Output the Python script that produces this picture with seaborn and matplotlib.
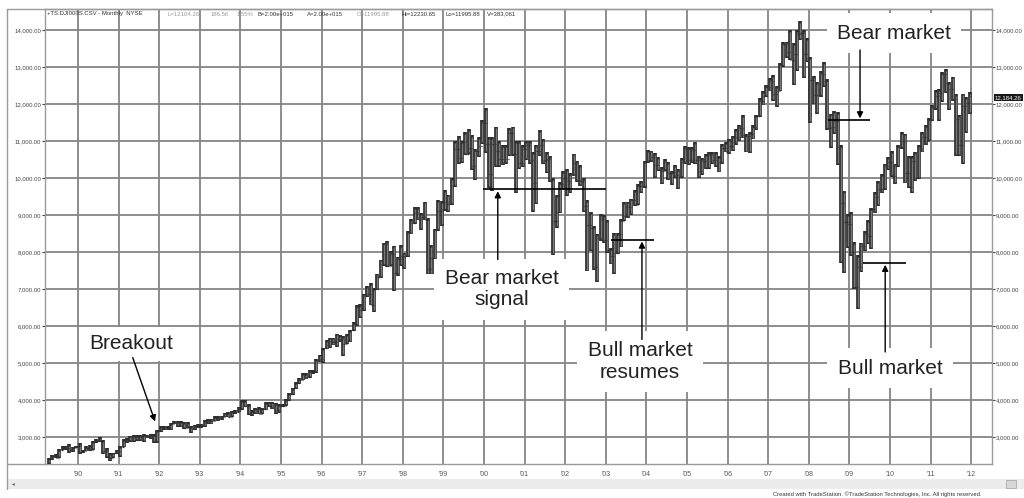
import numpy as np
import pandas as pd
import matplotlib
matplotlib.use("Agg")
import matplotlib.pyplot as plt
from matplotlib.patches import Rectangle
from matplotlib.lines import Line2D
import seaborn as sns

# ─── DATA (monthly OHLC, Apr 1989 – Dec 2011) ────────────────────────────────
START = "1989-04"

OPEN = [
    2293, 2419, 2480, 2440, 2661, 2737, 2693, 2645, 2706,                      # 1989
    2753, 2591, 2627, 2707, 2657, 2877, 2881, 2905, 2614, 2453, 2442, 2560,    # 1990
    2634, 2736, 2882, 2914, 2888, 3028, 2907, 3025, 3044, 3017, 3069, 2895,    # 1991
    3169, 3224, 3267, 3236, 3359, 3397, 3319, 3394, 3257, 3272, 3226, 3305,    # 1992
    3301, 3310, 3370, 3435, 3428, 3527, 3516, 3540, 3651, 3555, 3681, 3684,    # 1993
    3754, 3978, 3832, 3636, 3682, 3758, 3625, 3765, 3913, 3843, 3908, 3739,    # 1994
    3834, 3844, 4011, 4158, 4321, 4465, 4556, 4709, 4611, 4789, 4756, 5075,    # 1995
    5117, 5395, 5486, 5588, 5569, 5643, 5655, 5529, 5616, 5882, 6029, 6522,    # 1996
    6448, 6813, 6878, 6584, 7009, 7331, 7673, 8223, 7622, 7945, 7442, 7823,    # 1997
    7908, 7907, 8546, 8800, 9063, 8900, 8952, 8883, 7539, 7843, 8592, 9117,    # 1998
    9181, 9359, 9307, 9786, 10789, 10560, 10971, 10655, 10829, 10337, 10730, 10878,  # 1999
    11497, 10941, 10128, 10922, 10734, 10522, 10448, 10522, 11215, 10651, 10971, 10415,  # 2000
    10787, 10887, 10495, 9879, 10735, 10912, 10502, 10523, 9950, 8848, 9075, 9852,  # 2001
    10021, 9920, 10106, 10404, 9946, 9925, 9243, 8737, 8664, 7592, 8397, 8896,  # 2002
    8342, 8054, 7891, 7992, 8480, 8850, 8985, 9234, 9416, 9275, 9801, 9782,    # 2003
    10454, 10488, 10584, 10358, 10226, 10188, 10435, 10140, 10174, 10080, 10027, 10428,  # 2004
    10783, 10490, 10766, 10504, 10193, 10467, 10275, 10641, 10482, 10569, 10440, 10806,  # 2005
    10718, 10865, 10993, 11109, 11367, 11168, 11150, 11186, 11381, 11679, 12081, 12222,  # 2006
    12463, 12622, 12269, 12354, 13063, 13628, 13409, 13212, 13358, 13896, 13930, 13372,  # 2007
    13265, 12650, 12266, 12263, 12820, 12638, 11350, 11378, 11544, 10851, 9325, 8829,  # 2008
    8776, 8001, 7063, 7609, 8168, 8500, 8447, 9172, 9496, 9712, 9713, 10345,   # 2009
    10428, 10067, 10325, 10857, 11009, 10137, 9774, 10466, 10015, 10788, 11118, 11006,  # 2010
    11578, 11892, 12226, 12320, 12811, 12570, 12414, 12143, 11614, 10913, 11955, 12046,  # 2011
]

HIGH = [
    2430, 2500, 2535, 2670, 2760, 2770, 2800, 2720, 2770,
    2835, 2660, 2760, 2780, 2900, 2950, 3000, 2920, 2690, 2560, 2580, 2660,
    2750, 2950, 2980, 3040, 3050, 3060, 3050, 3070, 3060, 3080, 3080, 3190,
    3290, 3300, 3300, 3380, 3420, 3430, 3420, 3400, 3400, 3300, 3320, 3350,
    3340, 3460, 3490, 3500, 3560, 3560, 3580, 3660, 3670, 3700, 3720, 3800,
    3990, 3990, 3900, 3720, 3790, 3810, 3790, 3940, 3960, 3960, 3920, 3880,
    3900, 4020, 4180, 4330, 4480, 4590, 4730, 4720, 4810, 4810, 5110, 5230,
    5400, 5630, 5690, 5690, 5800, 5760, 5730, 5790, 5900, 6100, 6560, 6600,
    6880, 7080, 7160, 7030, 7420, 7800, 8260, 8300, 8020, 8180, 7880, 8200,
    7990, 8580, 8900, 9210, 9210, 9070, 9370, 8920, 8200, 8640, 9420, 9380,
    9680, 9560, 10010, 11000, 11150, 11000, 11250, 11330, 11160, 10790, 11120, 11570,
    11900, 11120, 11120, 11400, 11000, 10900, 10900, 11350, 11400, 11000, 11000, 10900,
    11000, 11000, 10700, 10900, 11300, 11050, 10700, 10600, 10000, 9550, 9900, 10200,
    10260, 10150, 10670, 10480, 10350, 10000, 9400, 9080, 8700, 8500, 9040, 9000,
    8870, 8110, 8520, 8520, 8900, 9350, 9370, 9450, 9690, 9850, 9930, 10460,
    10760, 10750, 10690, 10570, 10300, 10530, 10450, 10200, 10350, 10240, 10550, 10870,
    10850, 10850, 10980, 10600, 10550, 10650, 10720, 10720, 10700, 10600, 10930, 10990,
    11050, 11140, 11330, 11450, 11710, 11200, 11250, 11450, 11720, 12170, 12360, 12530,
    12700, 12800, 12500, 13120, 13690, 13700, 14020, 13660, 14000, 14250, 14000, 13800,
    13280, 12770, 12600, 12900, 13140, 12680, 11750, 11810, 11790, 10900, 9650, 9030,
    9090, 8280, 7930, 8260, 8580, 8880, 9200, 9630, 9920, 10120, 10400, 10580,
    10730, 10400, 10900, 11260, 11210, 10600, 10600, 10720, 10900, 11250, 11450, 11630,
    11990, 12390, 12420, 12880, 12950, 12600, 12750, 12280, 11720, 12290, 12200, 12330,
]

LOW = [
    2280, 2390, 2430, 2430, 2640, 2660, 2570, 2600, 2690,
    2540, 2560, 2610, 2630, 2650, 2840, 2870, 2550, 2430, 2360, 2430, 2550,
    2470, 2720, 2850, 2860, 2860, 2900, 2900, 2860, 2980, 2950, 2850, 2840,
    3140, 3200, 3200, 3180, 3340, 3280, 3260, 3220, 3240, 3120, 3200, 3250,
    3240, 3280, 3360, 3340, 3420, 3440, 3460, 3530, 3530, 3540, 3620, 3680,
    3740, 3800, 3600, 3560, 3620, 3610, 3620, 3720, 3820, 3760, 3620, 3650,
    3800, 3830, 3980, 4150, 4300, 4430, 4530, 4560, 4600, 4700, 4740, 5020,
    5000, 5370, 5400, 5480, 5430, 5580, 5200, 5510, 5560, 5870, 6000, 6220,
    6400, 6780, 6560, 6390, 6980, 7300, 7640, 7600, 7620, 6950, 7360, 7620,
    7540, 7870, 8480, 8770, 8860, 8600, 8860, 7400, 7400, 7400, 8580, 8700,
    9120, 9100, 9280, 9770, 10400, 10420, 10640, 10660, 10220, 9950, 10580, 10920,
    10680, 9730, 9650, 10300, 10300, 10370, 10400, 10600, 10600, 9600, 10250, 10300,
    10500, 10400, 9100, 9300, 10600, 10400, 10150, 9900, 7930, 8650, 9050, 9700,
    9530, 9600, 10050, 9900, 9800, 9080, 7480, 8040, 7530, 7190, 8300, 8240,
    7990, 7670, 7420, 7960, 8130, 8850, 8920, 9000, 9260, 9270, 9600, 9750,
    10410, 10450, 10000, 10200, 9850, 10200, 9950, 9810, 10000, 9710, 10000, 10390,
    10370, 10420, 10400, 10000, 10090, 10250, 10250, 10400, 10300, 10160, 10400, 10700,
    10650, 10750, 10900, 11000, 11080, 10700, 10680, 11050, 11300, 11650, 11970, 12200,
    12350, 12100, 11940, 12350, 13020, 13250, 13200, 12520, 12900, 13750, 12720, 13140,
    11500, 12000, 11730, 12200, 12480, 11300, 10830, 11200, 10360, 7700, 7450, 8120,
    7910, 7000, 6470, 7470, 8030, 8220, 8090, 9070, 9250, 9600, 9680, 10230,
    10030, 9840, 10300, 10800, 9860, 9730, 9610, 9930, 9990, 10700, 10900, 11000,
    11550, 11860, 11560, 12070, 12300, 11860, 12090, 10600, 10600, 10400, 11230, 11730,
]

CLOSE = [
    2419, 2480, 2440, 2661, 2737, 2693, 2645, 2706, 2753,
    2591, 2627, 2707, 2657, 2877, 2881, 2905, 2614, 2453, 2442, 2560, 2634,
    2736, 2882, 2914, 2888, 3028, 2907, 3025, 3044, 3017, 3069, 2895, 3169,
    3224, 3267, 3236, 3359, 3397, 3319, 3394, 3257, 3272, 3226, 3305, 3301,
    3310, 3370, 3435, 3428, 3527, 3516, 3540, 3651, 3555, 3681, 3684, 3754,
    3978, 3832, 3636, 3682, 3758, 3625, 3765, 3913, 3843, 3908, 3739, 3834,
    3844, 4011, 4158, 4321, 4465, 4556, 4709, 4611, 4789, 4756, 5075, 5117,
    5395, 5486, 5588, 5569, 5643, 5655, 5529, 5616, 5882, 6029, 6522, 6448,
    6813, 6878, 6584, 7009, 7331, 7673, 8223, 7622, 7945, 7442, 7823, 7908,
    7907, 8546, 8800, 9063, 8900, 8952, 8883, 7539, 7843, 8592, 9117, 9181,
    9359, 9307, 9786, 10789, 10560, 10971, 10655, 10829, 10337, 10730, 10878, 11497,
    10941, 10128, 10922, 10734, 10522, 10448, 10522, 11215, 10651, 10971, 10415, 10787,
    10887, 10495, 9879, 10735, 10912, 10502, 10523, 9950, 8848, 9075, 9852, 10021,
    9920, 10106, 10404, 9946, 9925, 9243, 8737, 8664, 7592, 8397, 8896, 8342,
    8054, 7891, 7992, 8480, 8850, 8985, 9234, 9416, 9275, 9801, 9782, 10454,
    10488, 10584, 10358, 10226, 10188, 10435, 10140, 10174, 10080, 10027, 10428, 10783,
    10490, 10766, 10504, 10193, 10467, 10275, 10641, 10482, 10569, 10440, 10806, 10718,
    10865, 10993, 11109, 11367, 11168, 11150, 11186, 11381, 11679, 12081, 12222, 12463,
    12622, 12269, 12354, 13063, 13628, 13409, 13212, 13358, 13896, 13930, 13372, 13265,
    12650, 12266, 12263, 12820, 12638, 11350, 11378, 11544, 10851, 9325, 8829, 8776,
    8001, 7063, 7609, 8168, 8500, 8447, 9172, 9496, 9712, 9713, 10345, 10428,
    10067, 10325, 10857, 11009, 10137, 9774, 10466, 10015, 10788, 11118, 11006, 11578,
    11892, 12226, 12320, 12811, 12570, 12414, 12143, 11614, 10913, 11955, 12046, 12218,
]

YEAR_TICKS = list(range(1990, 2013))
YEAR_LABELS = ["'%02d" % (y % 100) for y in YEAR_TICKS]
PRICE_TICKS = list(range(3000, 15000, 1000))
LAST_PRICE = 12184.26

# signal lines (start year, end year, level)
SIGNALS = [(1999.98, 2003.0, 9700), (2003.13, 2004.19, 8325),
           (2008.47, 2009.50, 11570), (2009.33, 2010.39, 7700)]

# ─── STYLE ───────────────────────────────────────────────────────────────────
sns.set_theme(style="white")
plt.rcParams["font.family"] = ["Liberation Sans", "DejaVu Sans"]
GRID = "#858585"
BAR_DARK = "#2e2e2e"
BAR_FILL = "#7a7a7a"

df = pd.DataFrame({"open": OPEN, "high": HIGH, "low": LOW, "close": CLOSE})
dates = pd.date_range(START, periods=len(df), freq="MS")
df["x"] = dates.year + (dates.month - 1) / 12 + 0.04

fig = plt.figure(figsize=(10.24, 4.98), dpi=100)
W, H = 1024, 498
ax = fig.add_axes([45 / W, 34 / H, (992 - 45) / W, (464 - 9) / H])
ax.set_xlim(1989.19, 2012.51)
ax.set_ylim(2270, 14580)

# grid
for y in PRICE_TICKS:
    ax.axhline(y, color=GRID, lw=1.3, zorder=1)
for x in YEAR_TICKS:
    ax.axvline(x, color=GRID, lw=1.3, zorder=1)

# OHLC bars
ax.vlines(df["x"], df["low"], df["high"], color=BAR_DARK, lw=2.7, zorder=3)
ax.vlines(df["x"], df["low"] + 50, df["high"] - 50, color=BAR_FILL, lw=1.0, zorder=4)
ax.hlines(df["open"], df["x"] - 0.03, df["x"], color=BAR_DARK, lw=0.9, zorder=4)
ax.hlines(df["close"], df["x"], df["x"] + 0.03, color=BAR_DARK, lw=0.9, zorder=4)

# axes / ticks
ax.set_xticks(YEAR_TICKS)
ax.set_xticklabels(YEAR_LABELS)
ax.set_yticks(PRICE_TICKS)
ax.set_yticklabels(["{:,.2f}".format(v) for v in PRICE_TICKS])
ax.tick_params(axis="y", labelsize=4.3, colors="#444444", length=2, width=0.8,
               left=True, right=True, labelleft=True, labelright=True, pad=0.8)
ax.tick_params(axis="x", labelsize=5, colors="#555555", length=0, pad=5)
for s in ax.spines.values():
    s.set_color("#9a9a9a")
    s.set_linewidth(1.0)

# annotations
txt_kw = dict(fontsize=15, color="#222222", ha="center", va="center", zorder=6,
              linespacing=1.15)
box = dict(boxstyle="square,pad=0.5", fc="white", ec="none")
arrow = dict(arrowstyle="-|>", color="black", lw=1.0, mutation_scale=9,
             shrinkA=0, shrinkB=0)

for x0, x1, lvl in SIGNALS:
    ax.hlines(lvl, x0, x1, color="black", lw=1.2, zorder=5)

ax.text(1991.31, 5520, "Breakout", bbox=dict(boxstyle="square,pad=0.35",
        fc="white", ec="none"), **txt_kw)
ax.annotate("", xy=(1991.90, 3420), xytext=(1991.35, 5150), arrowprops=arrow, zorder=6)

ax.text(2000.44, 7000, "Bear market\nsignal", bbox=box, **txt_kw)
ax.annotate("", xy=(2000.34, 9650), xytext=(2000.34, 7800), arrowprops=arrow, zorder=6)

ax.text(2003.84, 5040, "Bull market\nresumes", bbox=box, **txt_kw)
ax.annotate("", xy=(2003.89, 8290), xytext=(2003.89, 5640), arrowprops=arrow, zorder=6)

ax.text(2010.10, 13930, "Bear market", bbox=box, **txt_kw)
ax.annotate("", xy=(2009.26, 11620), xytext=(2009.26, 13470), arrowprops=arrow, zorder=6)

ax.text(2010.00, 4866, "Bull market", bbox=box, **txt_kw)
ax.annotate("", xy=(2009.88, 7660), xytext=(2009.88, 5300), arrowprops=arrow, zorder=6)

# last price box on the right axis
ax.text(1.003, LAST_PRICE, "12,184.26", transform=ax.get_yaxis_transform(),
        fontsize=4.3, color="white", va="center", ha="left", clip_on=False,
        bbox=dict(boxstyle="square,pad=0.2", fc="#1a1a1a", ec="none"), zorder=7)

# header line inside the plot
header = [
    (47, "+TS:DJI000S.CSV - Monthly  NYSE", "#333333"),
    (168, "L=12104.26", "#999999"), (211, "186.56", "#999999"), (237, "1.55%", "#999999"),
    (257, "B=2.00e+015", "#333333"), (307, "A=2.00e+015", "#333333"),
    (357, "O=11995.88", "#999999"), (402, "Hi=12230.65", "#333333"),
    (445, "Lo=11995.88", "#333333"), (487, "V=383,061", "#333333"),
]
for px, s, c in header:
    fig.text(px / W, 1 - 14 / H, s, fontsize=4.3, color=c, va="center", ha="left")

# window chrome: outer frame, scrollbar, credit
fig.add_artist(Line2D([7 / W, 992 / W], [1 - 9 / H, 1 - 9 / H], color="#9a9a9a", lw=1))
fig.add_artist(Line2D([7 / W, 7 / W], [1 - 9 / H, 1 - 489 / H], color="#9a9a9a", lw=1))
fig.add_artist(Line2D([7 / W, 45 / W], [34 / H, 34 / H], color="#9a9a9a", lw=1))
fig.add_artist(Rectangle((8 / W, 1 - 489 / H), 1 - 8 / W, 10 / H, fc="#ececec",
                         ec="none", transform=fig.transFigure))
fig.add_artist(Rectangle((1006 / W, 1 - 488 / H), 10 / W, 8 / H, fc="#d8d8d8",
                         ec="#aaaaaa", lw=0.6, transform=fig.transFigure))
fig.text(12 / W, 1 - 484 / H, "◂", fontsize=4, color="#666666", va="center")
fig.text(773 / W, 1 - 494 / H,
         "Created with TradeStation. ©TradeStation Technologies, Inc. All rights reserved.",
         fontsize=4.2, color="#333333", va="center", ha="left")

plt.savefig("out.png", dpi=100)
plt.close()
